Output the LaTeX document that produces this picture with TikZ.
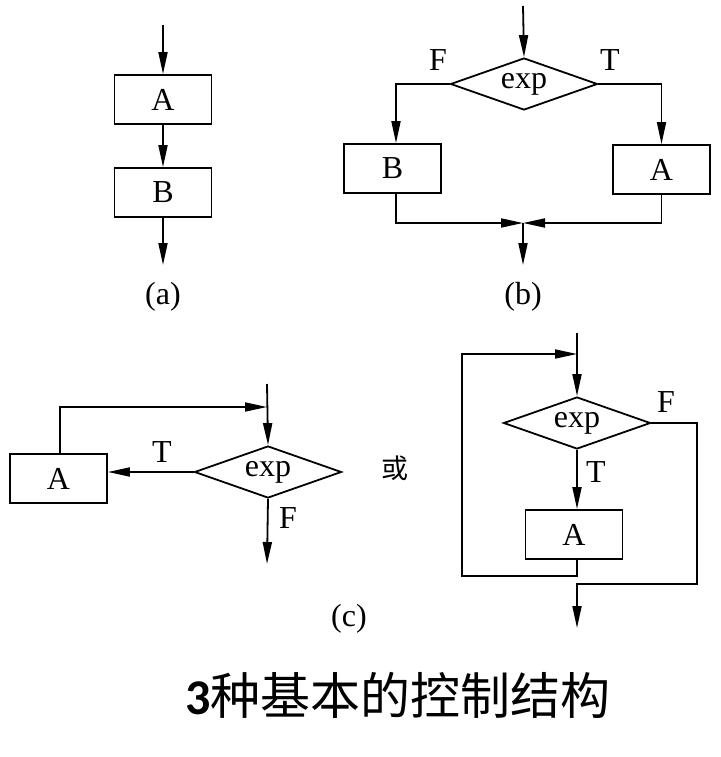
\documentclass[tikz,border=0pt]{standalone}
\usepackage{fontspec}
\setmainfont{Liberation Serif}
\newfontfamily\cjkfont{Noto Sans CJK SC}
\newfontfamily\titlenum{Carlito}
\usetikzlibrary{arrows.meta,shapes.geometric}
\begin{document}
\begin{tikzpicture}[x=1pt,y=-1pt,
  every node/.style={font=\fontsize{32pt}{35pt}\selectfont},
  box/.style={draw,line width=1.8pt,rectangle,minimum width=97pt,minimum height=49pt,inner sep=0pt},
  cond/.style={draw,line width=1.8pt,diamond,shape aspect=2.8,minimum width=147pt,minimum height=52pt,inner sep=0pt},
  arr/.style={line width=1.8pt,-{Triangle[length=22pt,width=9pt]}},
  lbl/.style={inner sep=0pt}]
\useasboundingbox (0,0) rectangle (720,757);
% (a)
\node[box] (aA) at (163,99.5) {A};
\node[box] (aB) at (163,192.5) {B};
\coordinate (a0) at (163,25);
\coordinate (a1) at (163,265);
\draw[arr] (a0) -- (aA.north);
\draw[arr] (aA.south) -- (aB.north);
\draw[arr] (aB.south) -- (a1);
\node[lbl] (la) at (163,297) {(a)};
% (b)
\node[cond] (bexp) at (524,84) {exp};
\node[box] (bB) at (392.5,168.5) {B};
\node[box] (bA) at (661.5,169.5) {A};
\coordinate (b0) at (523,6);
\coordinate (bm) at (523,223);
\coordinate (b1) at (523,265);
\draw[arr] (b0) -- (bexp.north);
\draw[arr] (bexp.west) -| (bB.north-|396,0);
\draw[arr] (bexp.east) -| (bA.north);
\draw[arr] (bB.south-|396,0) |- (bm);
\draw[arr] (bA.south) |- (bm);
\draw[arr] (bm) -- (b1);
\node[lbl] (bF) at (438,60) {F};
\node[lbl] (bT) at (610,60) {T};
\node[lbl] (lb) at (523,297) {(b)};
% (c) left
\node[cond] (cexp) at (268,472) {exp};
\node[box] (cA) at (58.5,478.5) {A};
\coordinate (c0) at (267,384);
\coordinate (cj) at (267,407);
\coordinate (c1) at (267,564);
\draw[arr] (c0) -- (cexp.north);
\draw[arr] (cA.north-|60,0) |- (cj);
\draw[arr] (cexp.west) -- (cexp.west-|cA.east);
\draw[arr] (cexp.south) -- (c1);
\node[lbl] (cT) at (162,452) {T};
\node[lbl] (cF) at (288,518) {F};
\node[lbl,font=\cjkfont\fontsize{27pt}{30pt}\selectfont] (or) at (395,468) {或};
\node[lbl] (lc) at (349,619) {(c)};
% (c) right
\node[cond] (dexp) at (577,423) {exp};
\node[box] (dA) at (574,534.5) {A};
\coordinate (d0) at (577,333);
\coordinate (dj) at (577,354);
\coordinate (dl) at (462,576);
\coordinate (dr) at (697,584);
\coordinate (dm) at (577,584);
\coordinate (d1) at (577,628);
\draw[arr] (d0) -- (dexp.north);
\draw[arr] (dexp.south) -- (dexp.south|-dA.north);
\draw[arr] (dA.south-|577,0) |- (dl) |- (dj);
\draw[arr] (dexp.east) -| (dr) -- (dm) -- (d1);
\node[lbl] (dF) at (666,402) {F};
\node[lbl] (dT) at (596,472) {T};
% title
\node[lbl,font=\fontsize{50pt}{56pt}\selectfont] (title) at (398,695) {{\titlenum\bfseries 3}\cjkfont 种基本的控制结构};
\end{tikzpicture}
\end{document}
